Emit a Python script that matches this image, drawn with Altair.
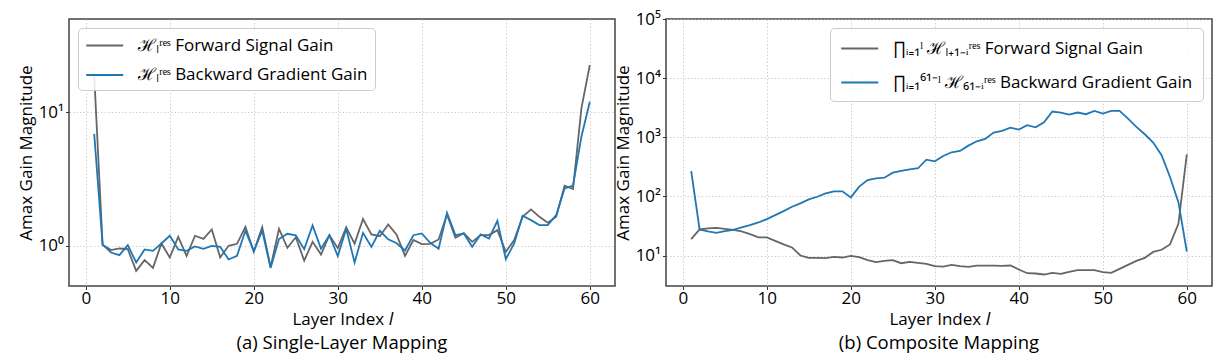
import altair as alt
import pandas as pd

layers = list(range(1, 61))

single_forward = [19.0, 1.02, 0.93, 0.955, 0.944, 0.649, 0.781, 0.684, 1.041, 0.818,
                  1.168, 0.841, 1.189, 1.128, 1.326, 0.818, 1.0, 1.035, 1.388, 0.905,
                  1.38, 0.693, 1.34, 0.966, 1.16, 0.775, 1.071, 0.86, 1.2, 0.96,
                  1.375, 1.038, 1.588, 1.218, 1.18, 1.445, 1.21, 0.84, 1.105, 1.03,
                  1.035, 1.116, 1.718, 1.148, 1.244, 1.071, 1.202, 1.202, 1.311, 0.901,
                  1.103, 1.649, 1.873, 1.649, 1.488, 1.65, 2.82, 2.66, 10.7, 22.6]
single_backward = [6.9, 1.02, 0.891, 0.851, 1.012, 0.750, 0.939, 0.917, 1.041, 1.189,
                   0.939, 0.917, 0.989, 0.950, 1.0, 0.983, 0.790, 0.841, 1.296, 0.913,
                   1.30, 0.683, 1.125, 1.23, 1.198, 0.944, 1.42, 0.952, 1.2, 0.837,
                   1.34, 0.75, 1.25, 0.983, 1.296, 1.118, 1.045, 0.922, 1.2, 1.237,
                   1.053, 0.950, 1.768, 1.202, 1.237, 0.983, 1.216, 1.135, 1.540, 0.794,
                   1.041, 1.679, 1.557, 1.429, 1.429, 1.698, 2.69, 2.82, 6.57, 12.0]
composite_forward = [18.9, 27.6, 28.7, 29.4, 28.3, 27.2, 25.5, 23.0, 20.2, 20.2,
                     17.7, 15.4, 13.7, 10.0, 9.13, 9.13, 9.01, 9.49, 9.25, 9.87,
                     9.37, 8.34, 7.71, 8.12, 8.34, 7.41, 7.81, 7.52, 7.23, 6.59,
                     6.51, 6.95, 6.59, 6.43, 6.77, 6.77, 6.77, 6.68, 6.77, 5.80,
                     5.02, 4.96, 4.77, 5.08, 4.89, 5.29, 5.64, 5.64, 5.64, 5.22,
                     5.08, 5.94, 6.95, 8.12, 9.13, 11.5, 12.5, 15.4, 34.4, 515.0]
composite_backward = [268.0, 27.6, 25.5, 24.2, 25.8, 27.2, 29.8, 32.7, 36.2, 41.3,
                      48.3, 56.4, 66.8, 76.0, 88.9, 98.6, 112.0, 122.0, 122.0, 96.1,
                      146.0, 189.0, 202.0, 207.0, 252.0, 269.0, 287.0, 299.0, 418.0, 392.0,
                      483.0, 557.0, 587.0, 722.0, 855.0, 937.0, 1200.0, 1280.0, 1458.0, 1349.0,
                      1597.0, 1476.0, 1795.0, 2723.0, 2620.0, 2421.0, 2620.0, 2455.0, 2793.0, 2518.0,
                      2793.0, 2793.0, 2070.0, 1497.0, 1124.0, 813.0, 496.0, 213.0, 80.0, 11.7]

x_ticks = [0, 10, 20, 30, 40, 50, 60]
left_y_ticks = [1, 10]
right_y_ticks = [10, 100, 1000, 10000, 100000]

label_a_fwd = "ℋₗʳᵉˢ Forward Signal Gain"
label_a_bwd = "ℋₗʳᵉˢ Backward Gradient Gain"
label_b_fwd = "∏ᵢ₌₁ˡ ℋₗ₊₁₋ᵢʳᵉˢ Forward Signal Gain"
label_b_bwd = "∏ᵢ₌₁⁶¹⁻ˡ ℋ₆₁₋ᵢʳᵉˢ Backward Gradient Gain"

subtitle_a = "(a) Single-Layer Mapping"
subtitle_b = "(b) Composite Mapping"

GREY = "#666666"
BLUE = "#1f77b4"
FONT = "Open Sans"

POW_EXPR = "'10' + ['⁰','¹','²','³','⁴','⁵'][round(log(datum.value)/LN10)]"


def panel(fwd, bwd, lab_f, lab_b, ydomain, yticks, subtitle, orient, row_pad, leg_pad):
    df = pd.DataFrame({
        "layer": layers + layers,
        "gain": fwd + bwd,
        "series": [lab_f] * len(layers) + [lab_b] * len(layers),
    })
    return alt.Chart(
        df,
        title=alt.Title(subtitle, orient="bottom", anchor="middle", frame="group",
                        fontSize=18.5, font=FONT, fontWeight="normal", color="black", offset=6),
    ).mark_line(strokeWidth=1.8, clip=True).encode(
        x=alt.X("layer:Q",
                scale=alt.Scale(domain=[-2, 63], nice=False, zero=False),
                axis=alt.Axis(values=x_ticks, title="Layer Index 𝑙", format="d",
                              labelPadding=1, titlePadding=5)),
        y=alt.Y("gain:Q",
                scale=alt.Scale(type="log", domain=ydomain, nice=False),
                axis=alt.Axis(values=yticks, labelExpr=POW_EXPR, title="Amax Gain Magnitude")),
        color=alt.Color("series:N",
                        scale=alt.Scale(domain=[lab_f, lab_b], range=[GREY, BLUE]),
                        legend=alt.Legend(title=None, orient=orient, offset=9,
                                          rowPadding=row_pad, padding=leg_pad)),
    ).properties(width=546, height=267)


left = panel(single_forward, single_backward, label_a_fwd, label_a_bwd,
             [0.5, 50], left_y_ticks, subtitle_a, "top-left", 10.5, 7)
right = panel(composite_forward, composite_backward, label_b_fwd, label_b_bwd,
              [3.05, 100000], right_y_ticks, subtitle_b, "top-right", 15, 10)

chart = alt.hconcat(left, right, spacing=-3).resolve_scale(
    color="independent", y="independent", x="independent"
).resolve_legend(color="independent").configure(
    font=FONT,
    padding={"left": 8, "top": 1, "right": 0, "bottom": 0},
).configure_view(
    stroke="#444444", strokeWidth=1.5,
).configure_axis(
    labelFont=FONT, titleFont=FONT, labelFontSize=17, titleFontSize=17,
    titleFontWeight="normal", labelColor="black", titleColor="black",
    grid=True, gridColor="#c4c4c4", gridDash=[1.5, 2], gridWidth=0.8,
    domain=False, tickColor="#333333", tickSize=3.5, tickWidth=1,
    labelPadding=2, titlePadding=3,
).configure_legend(
    labelFont=FONT, labelFontSize=17, labelColor="black", labelLimit=500,
    symbolType="M-2,0H2", symbolStrokeWidth=2, symbolSize=342,
    symbolOffset=9.25, labelOffset=23,
    fillColor="rgba(255,255,255,0.85)", strokeColor="#cccccc", cornerRadius=4,
)

chart.save("out.html", embed_options={"renderer": "svg", "actions": False})
